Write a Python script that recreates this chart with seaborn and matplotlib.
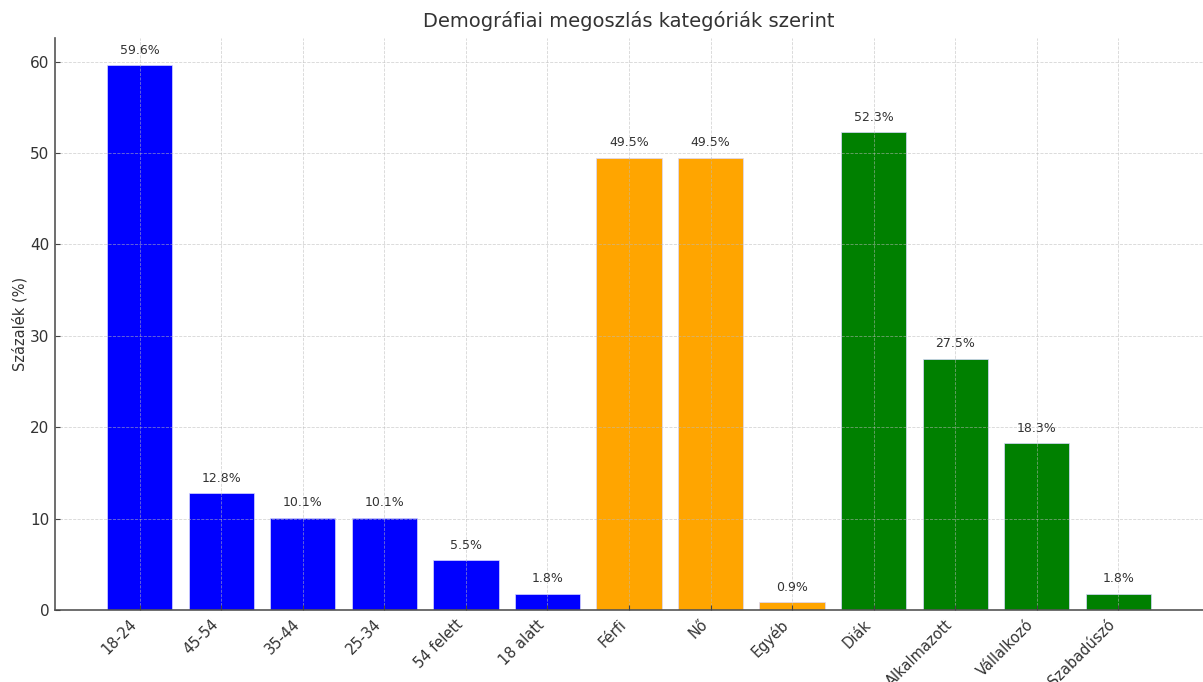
import matplotlib
matplotlib.use("Agg")
import matplotlib.pyplot as plt
import seaborn as sns
import pandas as pd

categories = ["18-24", "45-54", "35-44", "25-34", "54 felett", "18 alatt",
              "Férfi", "Nő", "Egyéb",
              "Diák", "Alkalmazott", "Vállalkozó", "Szabadúszó"]
values = [59.6, 12.8, 10.1, 10.1, 5.5, 1.8,
          49.5, 49.5, 0.9,
          52.3, 27.5, 18.3, 1.8]
groups = ["Kor"] * 6 + ["Nem"] * 3 + ["Foglalkozás"] * 4
group_colors = {"Kor": "#0000ff", "Nem": "#ffa500", "Foglalkozás": "#008000"}

sns.set_style("white")
plt.rcParams['font.family'] = ['DejaVu Sans']
text_color = "#333333"

df = pd.DataFrame({"cat": categories, "val": values, "grp": groups})

fig = plt.figure(figsize=(12.03, 6.82), dpi=100)
ax = fig.add_axes([55 / 1203, 1 - 610 / 682, 1 - 55 / 1203, (610 - 38) / 682])

sns.barplot(data=df, x="cat", y="val", hue="grp", palette=group_colors,
            dodge=False, legend=False, width=0.8, ax=ax, saturation=1,
            edgecolor="#d8d8ff", linewidth=0.5)

for i, v in enumerate(values):
    ax.text(i, v + 0.9, f"{v}%", ha="center", va="bottom", fontsize=9, color=text_color)

n = len(categories)
ax.set_xlim(-0.4 - 0.05 * (n - 0.2), n - 1 + 0.4 + 0.05 * (n - 0.2))
ax.set_ylim(0, max(values) * 1.05)

ax.set_axisbelow(False)
ax.grid(True, which="major", axis="both", linestyle="--", linewidth=0.6, color="#bbbbbb", alpha=0.6)

ax.set_title("Demográfiai megoszlás kategóriák szerint", fontsize=14, color=text_color, pad=8)
ax.set_xlabel("")
ax.set_ylabel("Százalék (%)", fontsize=10.5, color=text_color, labelpad=2)
ax.set_xticks(range(n))
ax.set_xticklabels(categories, rotation=45, ha="right", fontsize=10.5, color=text_color)
ax.tick_params(axis="y", labelsize=11, labelcolor=text_color, color="#444444",
               length=3.5, left=True, direction="in", pad=4)
ax.tick_params(axis="x", color="#444444", length=3.5, bottom=True, direction="in", pad=5)

for s in ["top", "right"]:
    ax.spines[s].set_visible(False)
for s in ["left", "bottom"]:
    ax.spines[s].set_color("#555555")
    ax.spines[s].set_linewidth(1.2)

fig.savefig("out.png", dpi=100)
